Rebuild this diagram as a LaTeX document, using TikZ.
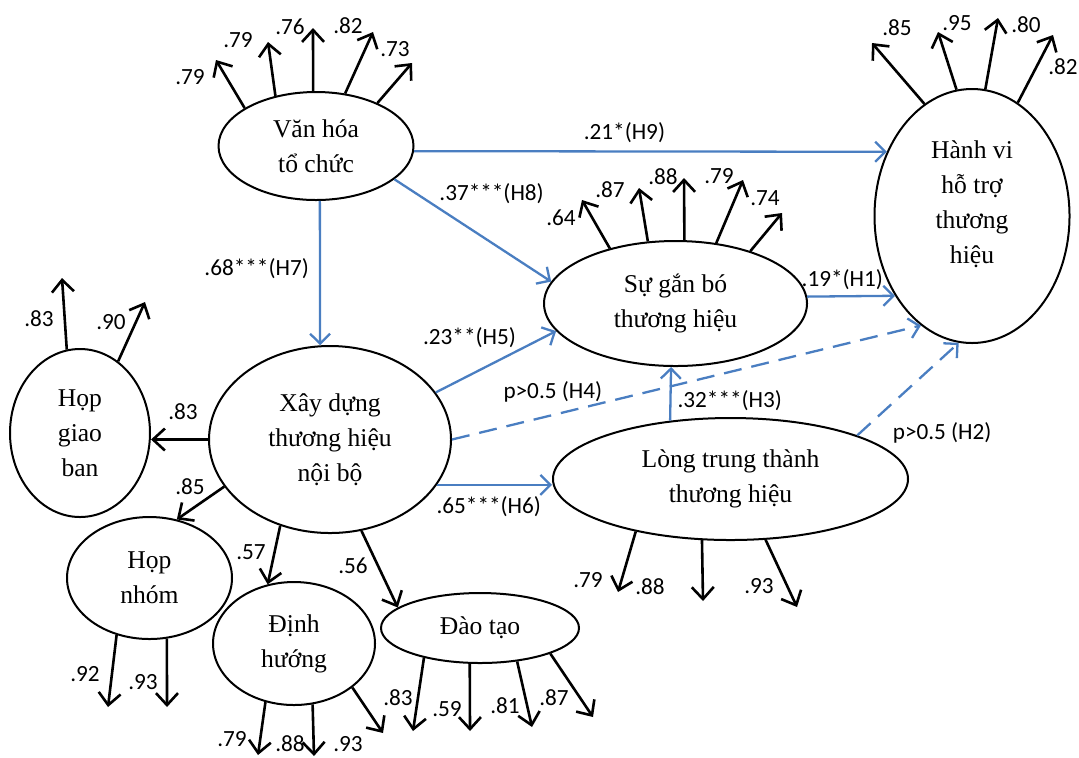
\documentclass[tikz,border=0pt]{standalone}
\usepackage{fontspec}
\setmainfont{Liberation Serif}
\newfontfamily\lblfont{Carlito}
\usepackage{tikz}
\usetikzlibrary{arrows.meta,positioning,shapes.geometric,calc}
\definecolor{hypblue}{RGB}{74,126,193}
\tikzset{
  latent/.style ={draw, ellipse, line width=1pt, inner sep=0pt, align=center, font=\fontsize{12.8}{17.5}\selectfont},
  ind/.style    ={-{Straight Barb[length=6pt,width=11pt]}, line width=1.3pt},
  hyp/.style    ={-{Straight Barb[length=5pt,width=10pt]}, draw=hypblue, line width=1.15pt},
  hypns/.style  ={hyp, dash pattern=on 9pt off 5pt},
  lbl/.style    ={font=\lblfont\fontsize{11.6}{13}\selectfont, inner sep=1pt}
}

\begin{document}
\begin{tikzpicture}[x=0.5pt, y=-0.5pt]
  \useasboundingbox (0,0) rectangle (1079,757);
  \node[latent, minimum width=97.5pt, minimum height=54pt] (vh) at (316,146) {Văn hóa\\tổ chức};
  \node[latent, minimum width=97.5pt, minimum height=127pt] (hv) at (972,216) {Hành vi\\hỗ trợ\\thương\\hiệu\\[-4pt]};
  \node[latent, minimum width=131.5pt, minimum height=62.5pt] (sg) at (675.5,303.5) {Sự gắn bó\\thương hiệu};
  \node[latent, minimum width=121pt, minimum height=93.5pt] (xd) at (330,439.5) {Xây dựng\\thương hiệu\\nội bộ};
  \node[latent, minimum width=70pt, minimum height=84pt] (hgb) at (80,433) {Họp\\giao\\ban};
  \node[latent, minimum width=177.5pt, minimum height=61pt] (lt) at (730.5,479) {Lòng trung thành\\thương hiệu};
  \node[latent, minimum width=82.5pt, minimum height=61pt] (hn) at (149.5,578) {Họp\\nhóm};
  \node[latent, minimum width=81pt, minimum height=61.5pt] (dh) at (294,643.5) {Định\\hướng};
  \node[latent, minimum width=99pt, minimum height=35pt] (dt) at (480,628) {Đào tạo};
  % structural paths
  \draw[hyp] (vh.274) -- node[lbl, pos=0.47, left=4pt] (h7) {.68***(H7)} (xd.96);
  \draw[hyp] (vh.357) -- node[lbl, pos=0.445, above=3pt] (h9) {.21*(H9)} (hv.143.5);
  \draw[hyp] (vh.337.5) -- node[lbl, pos=0.62, above=18pt] (h8) {.37***(H8)} (sg.170.6);
  \draw[hyp] (xd.24.6) -- node[lbl, pos=0.28, above=12pt] (h5) {.23**(H5)} (sg.193.8);
  \draw[hyp] (xd.337.4) -- node[lbl, pos=0.45, below=4pt] (h6) {.65***(H6)} (xd.337.4 -| lt.west);
  \draw[hyp] (lt.136) -- node[lbl, pos=0.38, right=2pt] (h3) {.32***(H3)} (sg.266);
  \draw[hyp] (sg.3.3) -- node[lbl, pos=0.4, above=1.5pt] (h1) {.19*(H1)} (hv.226.5);
  \draw[hypns] (xd.east) -- node[lbl, pos=0.215, above=5pt] (h4) {p>0.5 (H4)} (hv.245);
  \draw[hypns] (lt.19.8) -- node[lbl, pos=0.25, below right=5pt] (h2) {p>0.5 (H2)} (hv.264.6);
  % second order loadings
  \draw[ind] (xd.west) -- (xd.west -| hgb.east); \draw[ind] (xd.204.6) -- (hn.65.4);
  \draw[ind] (xd.240.6) -- (dh.114); \draw[ind] (xd.289.2) -- (dt.166.8);
  \node[lbl] (xdl1) at (183,412) {.83}; \node[lbl] (xdl2) at (190,487) {.85};
  \node[lbl] (xdl3) at (251,552) {.57}; \node[lbl] (xdl4) at (353,566) {.56};
  % items of van hoa
  \coordinate (vh1) at (216,60); \coordinate (vh2) at (268,42); \coordinate (vh3) at (313,28);
  \coordinate (vh4) at (373,32); \coordinate (vh5) at (412,63);
  \draw[ind] (vh.152) -- (vh1); \draw[ind] (vh.129) -- (vh2); \draw[ind] (vh.93) -- (vh3);
  \draw[ind] (vh.61) -- (vh4); \draw[ind] (vh.35) -- (vh5);
  \node[lbl] (vhl1) at (190,77) {.79}; \node[lbl] (vhl2) at (238,40) {.79}; \node[lbl] (vhl3) at (290,27) {.76};
  \node[lbl] (vhl4) at (348,26) {.82}; \node[lbl] (vhl5) at (395,49) {.73};
  % items of hanh vi
  \coordinate (hv1) at (872,43); \coordinate (hv2) at (938,32); \coordinate (hv3) at (998,18); \coordinate (hv4) at (1053,35);
  \draw[ind] (hv.113.4) -- (hv1); \draw[ind] (hv.97.7) -- (hv2); \draw[ind] (hv.84.2) -- (hv3); \draw[ind] (hv.68.8) -- (hv4);
  \node[lbl] (hvl1) at (897,28) {.85}; \node[lbl] (hvl2) at (957,23) {.95};
  \node[lbl] (hvl3) at (1026,25) {.80}; \node[lbl] (hvl4) at (1063,67) {.82};
  % items of su gan bo
  \coordinate (sg1) at (582,200); \coordinate (sg2) at (639,188); \coordinate (sg3) at (684,178);
  \coordinate (sg4) at (743,180); \coordinate (sg5) at (782,213);
  \draw[ind] (sg.140.2) -- (sg1); \draw[ind] (sg.114.9) -- (sg2); \draw[ind] (sg.82.3) -- (sg3);
  \draw[ind] (sg.56.9) -- (sg4); \draw[ind] (sg.35.5) -- (sg5);
  \node[lbl] (sgl1) at (561,218) {.64}; \node[lbl] (sgl2) at (610,190) {.87}; \node[lbl] (sgl3) at (663,177) {.88};
  \node[lbl] (sgl4) at (719,176) {.79}; \node[lbl] (sgl5) at (765,198) {.74};
  % items of hop giao ban, hop nhom
  \coordinate (hgb1) at (62,278); \coordinate (hgb2) at (145,302);
  \draw[ind] (hgb.99) -- (hgb1); \draw[ind] (hgb.62.8) -- (hgb2);
  \node[lbl] (hgbl1) at (39,319) {.83}; \node[lbl] (hgbl2) at (111,322) {.90};
  \coordinate (hn1) at (108,707); \coordinate (hn2) at (167,707);
  \draw[ind] (hn.240.7) -- (hn1); \draw[ind] (hn.286) -- (hn2);
  \node[lbl] (hnl1) at (85,674) {.92}; \node[lbl] (hnl2) at (143,682) {.93};
  % items of dinh huong
  \coordinate (dh1) at (258,755); \coordinate (dh2) at (314,756); \coordinate (dh3) at (383,733);
  \draw[ind] (dh.244.8) -- (dh1); \draw[ind] (dh.287.2) -- (dh2); \draw[ind] (dh.323) -- (dh3);
  \node[lbl] (dhl1) at (232,739) {.79}; \node[lbl] (dhl2) at (290,744) {.88}; \node[lbl] (dhl3) at (348,744) {.93};
  % items of dao tao
  \coordinate (dt1) at (413,731); \coordinate (dt2) at (470,731); \coordinate (dt3) at (532,727); \coordinate (dt4) at (593,717);
  \draw[ind] (dt.208.5) -- (dt1); \draw[ind] (dt.254.5) -- (dt2); \draw[ind] (dt.318.2) -- (dt3); \draw[ind] (dt.340.9) -- (dt4);
  \node[lbl] (dtl1) at (398,698) {.83}; \node[lbl] (dtl2) at (447,709) {.59};
  \node[lbl] (dtl3) at (505,706) {.81}; \node[lbl] (dtl4) at (554,698) {.87};
  % items of long trung thanh
  \coordinate (lt1) at (618,592); \coordinate (lt2) at (703,601); \coordinate (lt3) at (797,607);
  \draw[ind] (lt.209.8) -- (lt1); \draw[ind] (lt.245.4) -- (lt2); \draw[ind] (lt.300.9) -- (lt3);
  \node[lbl] (ltl1) at (588,580) {.79}; \node[lbl] (ltl2) at (650,587) {.88}; \node[lbl] (ltl3) at (759,586) {.93};
\end{tikzpicture}
\end{document}
